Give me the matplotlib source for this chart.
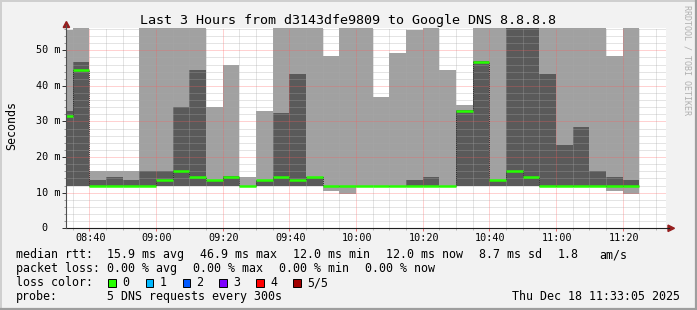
import matplotlib
matplotlib.use("Agg")
import matplotlib.pyplot as plt
from matplotlib.patches import Rectangle, Polygon
from matplotlib.lines import Line2D
from matplotlib.transforms import blended_transform_factory, offset_copy

# ---------------- data ----------------
slot_times = ["08:30", "08:35", "08:40", "08:45", "08:50", "08:55",
              "09:00", "09:05", "09:10", "09:15", "09:20", "09:25",
              "09:30", "09:35", "09:40", "09:45", "09:50", "09:55",
              "10:00", "10:05", "10:10", "10:15", "10:20", "10:25",
              "10:30", "10:35", "10:40", "10:45", "10:50", "10:55",
              "11:00", "11:05", "11:10", "11:15", "11:20"]
slot_minutes = 5

# five pings per slot, sorted: ping1 (min) .. ping5 (max), values in ms
rtt_min = [12.0, 12.0, 12.0, 12.0, 12.0, 12.0, 12.0, 12.0, 12.0, 12.0,
           12.0, 11.9, 12.0, 12.0, 12.0, 12.0, 10.6, 9.5, 12.0, 12.0,
           12.0, 12.0, 12.0, 12.0, 12.0, 12.0, 12.0, 12.0, 12.0, 12.0,
           12.0, 12.0, 12.0, 10.6, 9.5]
rtt_lo = [12.0, 12.0, 12.0, 12.0, 12.0, 12.0, 12.0, 12.0, 12.0, 12.0,
          12.0, 11.9, 12.0, 12.0, 12.0, 12.0, 12.0, 12.0, 12.0, 12.0,
          12.0, 12.0, 12.0, 12.0, 12.0, 12.0, 12.0, 12.0, 12.0, 12.0,
          12.0, 12.0, 12.0, 12.0, 12.0]
rtt_median = [31.5, 44.4, 12.0, 12.0, 12.0, 12.0, 13.5, 16.0, 14.5, 13.5,
              14.5, 11.9, 13.5, 14.5, 13.5, 14.5, 12.0, 12.0, 12.0, 12.0,
              12.0, 12.0, 12.0, 12.0, 33.0, 46.8, 13.5, 16.0, 14.5, 12.0,
              12.0, 12.0, 12.0, 12.0, 12.0]
rtt_hi = [33.0, 46.7, 13.6, 14.5, 13.6, 16.1, 16.1, 34.1, 44.5, 13.6,
          14.6, 12.0, 13.6, 32.5, 43.3, 14.5, 12.0, 12.0, 12.0, 12.0,
          12.0, 13.6, 14.4, 12.0, 33.2, 46.9, 13.6, 60.0, 60.0, 43.3,
          23.5, 28.5, 16.1, 14.4, 13.6]
rtt_max = [55.7, 60.0, 16.1, 16.1, 16.1, 60.0, 60.0, 60.0, 60.0, 34.1,
           46.0, 14.4, 32.9, 60.0, 60.0, 60.0, 48.5, 60.0, 60.0, 37.0,
           49.3, 55.8, 60.0, 44.4, 34.6, 60.0, 60.0, 60.0, 60.0, 60.0,
           60.0, 60.0, 60.0, 48.5, 60.0]

x_tick_labels = ["08:40", "09:00", "09:20", "09:40", "10:00",
                 "10:20", "10:40", "11:00", "11:20"]
y_tick_values = [0, 10, 20, 30, 40, 50]
y_tick_labels = ["0", "10 m", "20 m", "30 m", "40 m", "50 m"]
y_top = 56.26
window_end = "11:33:05"
window_minutes = 180

title = "Last 3 Hours from d3143dfe9809 to Google DNS 8.8.8.8"
y_label = "Seconds"
legend_rtt = ["median rtt:", "15.9 ms avg", "46.9 ms max", "12.0 ms min",
              "12.0 ms now", "8.7 ms sd", "1.8", "am/s"]
legend_loss = ["packet loss:", "0.00 % avg", "0.00 % max", "0.00 % min",
               "0.00 % now"]
loss_title = "loss color:"
loss_labels = ["0", "1", "2", "3", "4", "5/5"]
loss_colors = ["#26ff00", "#00b8ff", "#0059ff", "#7e00ff", "#ff0000", "#a10000"]
probe_text = ["probe:", "5 DNS requests every 300s"]
date_text = "Thu Dec 18 11:33:05 2025"
watermark = "RRDTOOL / TOBI OETIKER"


def to_min(s):
    parts = [int(p) for p in s.split(":")]
    m = (parts[0] - 8) * 60 + parts[1]
    if len(parts) > 2:
        m += parts[2] / 60.0
    return m


# ---------------- layout (pixels) ----------------
W, H = 697, 310
L, R, T, B = 66.4, 666.4, 28.0, 228.3
MONO = "DejaVu Sans Mono"
LIGHT = "#a1a1a1"
DARK = "#5a5a5a"

fig = plt.figure(figsize=(W / 100, H / 100), dpi=100, facecolor="#f2f2f2")


def fx(x):
    return x / W


def fy(y):
    return 1 - y / H


ax = fig.add_axes([fx(L), fy(B), (R - L) / W, (B - T) / H])
ax.set_facecolor("white")

xs = [to_min(t) for t in slot_times]
end = to_min(window_end)
x0 = end - window_minutes

# smoke
ax.bar(xs, [b - a for a, b in zip(rtt_min, rtt_max)], bottom=rtt_min,
       width=slot_minutes, align="edge", color=LIGHT, linewidth=0, zorder=1)
ax.bar(xs, [b - a for a, b in zip(rtt_lo, rtt_hi)], bottom=rtt_lo,
       width=slot_minutes, align="edge", color=DARK, linewidth=0, zorder=1.1)
# median
edges = xs + [xs[-1] + slot_minutes]
ax.stairs(rtt_median, edges, baseline=None, color="#262626", linewidth=0.6,
          linestyle=(0, (1.5, 1)), zorder=3)
ax.hlines(rtt_median, xs, [x + slot_minutes for x in xs], color=loss_colors[0],
          linewidth=1.8, zorder=3.2)

# grid
major_x = [to_min(t) for t in x_tick_labels]
minor_x = [t for t in xs + [xs[-1] + k * slot_minutes for k in (1, 2)]
           if x0 < t < end]
ax.set_xticks(major_x)
ax.set_xticks(minor_x, minor=True)
ax.set_yticks(y_tick_values)
ax.set_yticks([v for v in range(0, 57, 2)], minor=True)
ax.set_xlim(x0, end)
ax.set_ylim(0, y_top)
ax.set_axisbelow(False)
dots = (0, (1, 1))
ax.grid(which="major", color="#ff5a5a", alpha=0.55, linestyle=dots, linewidth=0.72)
ax.grid(which="minor", color="#a8a8a8", alpha=0.6, linestyle=dots, linewidth=0.72)
ax.tick_params(labelbottom=False, labelleft=False)
ax.tick_params(axis="x", which="major", length=2.2, width=0.72, color="#e07070",
               direction="out")
ax.tick_params(axis="x", which="minor", length=1.5, width=0.72, color="#b8b8b8",
               direction="out")
ax.tick_params(axis="y", which="major", length=3.0, width=0.72, color="#333333",
               direction="out")
ax.tick_params(axis="y", which="minor", length=1.5, width=0.72, color="#999999",
               direction="out")
for s in ax.spines.values():
    s.set_visible(False)

# axis lines + arrows
fig.add_artist(Line2D([fx(L), fx(669)], [fy(B), fy(B)], color="#1f1f1f",
                      linewidth=0.8, transform=fig.transFigure))
fig.add_artist(Line2D([fx(L), fx(L)], [fy(B), fy(25)], color="#505050",
                      linewidth=0.8, transform=fig.transFigure))
arrow_c = "#961e1e"
fig.add_artist(Polygon([(fx(674.5), fy(B)), (fx(668), fy(B - 3.2)), (fx(668), fy(B + 3.2))],
                       closed=True, color=arrow_c, transform=fig.transFigure))
fig.add_artist(Polygon([(fx(L), fy(21.5)), (fx(L - 3.2), fy(27.5)), (fx(L + 3.2), fy(27.5))],
                       closed=True, color=arrow_c, transform=fig.transFigure))

# tick labels
ytr = offset_copy(blended_transform_factory(fig.transFigure, ax.transData),
                  fig=fig, x=0, y=-3.0, units="dots")
for v, lbl in zip(y_tick_values, y_tick_labels):
    xr = 47.6 if lbl == "0" else 60.6
    ax.text(fx(xr), v, lbl, transform=ytr, ha="right", va="baseline",
            family=MONO, size=7.3, color="black")
xtr = offset_copy(blended_transform_factory(ax.transData, fig.transFigure),
                  fig=fig, x=1.0, y=0, units="dots")
for lbl in x_tick_labels:
    ax.text(to_min(lbl), fy(241.2), lbl, transform=xtr, ha="center",
            va="baseline", family=MONO, size=7.3, color="black")

# title, y label, watermark
fig.text(fx(348), fy(24.2), title, ha="center", va="baseline", family=MONO,
         size=9.6, color="black")
fig.text(fx(15.2), fy(126), y_label, rotation=90, rotation_mode="anchor",
         ha="center", va="baseline", family=MONO, size=8.4, color="black")
fig.text(fx(687.5), fy(60), watermark, rotation=270, ha="center", va="center",
         family=MONO, size=6.0, color="#b0b0b0")

# legend
LS = 8.35
rtt_x = [15.6, 107, 199.6, 293, 386.3, 479, 558, 599.6]
for x, s in zip(rtt_x, legend_rtt):
    fig.text(fx(x), fy(258.3), s, ha="left", va="baseline", family=MONO, size=LS)
loss_x = [15.6, 107, 193, 279, 364.6]
for x, s in zip(loss_x, legend_loss):
    fig.text(fx(x), fy(272.2), s, ha="left", va="baseline", family=MONO, size=LS)
fig.text(fx(15.6), fy(286.1), loss_title, ha="left", va="baseline", family=MONO, size=LS)
box_x = [108.2, 145.6, 182.7, 219.4, 256.2, 293.4]
lab_x = [122.3, 159.6, 196.3, 233.0, 270.3, 307.0]
for bx, lx, c, s in zip(box_x, lab_x, loss_colors, loss_labels):
    fig.add_artist(Rectangle((fx(bx), fy(286.6)), 7.6 / W, 8.0 / H, facecolor=c,
                             edgecolor="black", linewidth=0.7,
                             transform=fig.transFigure))
    fig.text(fx(lx), fy(286.1), s, ha="left", va="baseline", family=MONO, size=LS)
fig.text(fx(15.6), fy(299.8), probe_text[0], ha="left", va="baseline", family=MONO, size=LS)
fig.text(fx(107), fy(299.8), probe_text[1], ha="left", va="baseline", family=MONO, size=LS)
fig.text(fx(680.5), fy(299.8), date_text, ha="right", va="baseline", family=MONO, size=LS)

# 3D frame
fig.add_artist(Line2D([0, 1], [fy(0.5), fy(0.5)], color="#cfcfcf", linewidth=1.4,
                      transform=fig.transFigure))
fig.add_artist(Line2D([fx(0.5), fx(0.5)], [0, 1], color="#cfcfcf", linewidth=1.4,
                      transform=fig.transFigure))
fig.add_artist(Line2D([0, 1], [fy(308.8), fy(308.8)], color="#9e9e9e", linewidth=1.6,
                      transform=fig.transFigure))
fig.add_artist(Line2D([fx(695.8), fx(695.8)], [0, 1], color="#9e9e9e", linewidth=1.6,
                      transform=fig.transFigure))

fig.savefig("out.png", dpi=100, facecolor=fig.get_facecolor())
